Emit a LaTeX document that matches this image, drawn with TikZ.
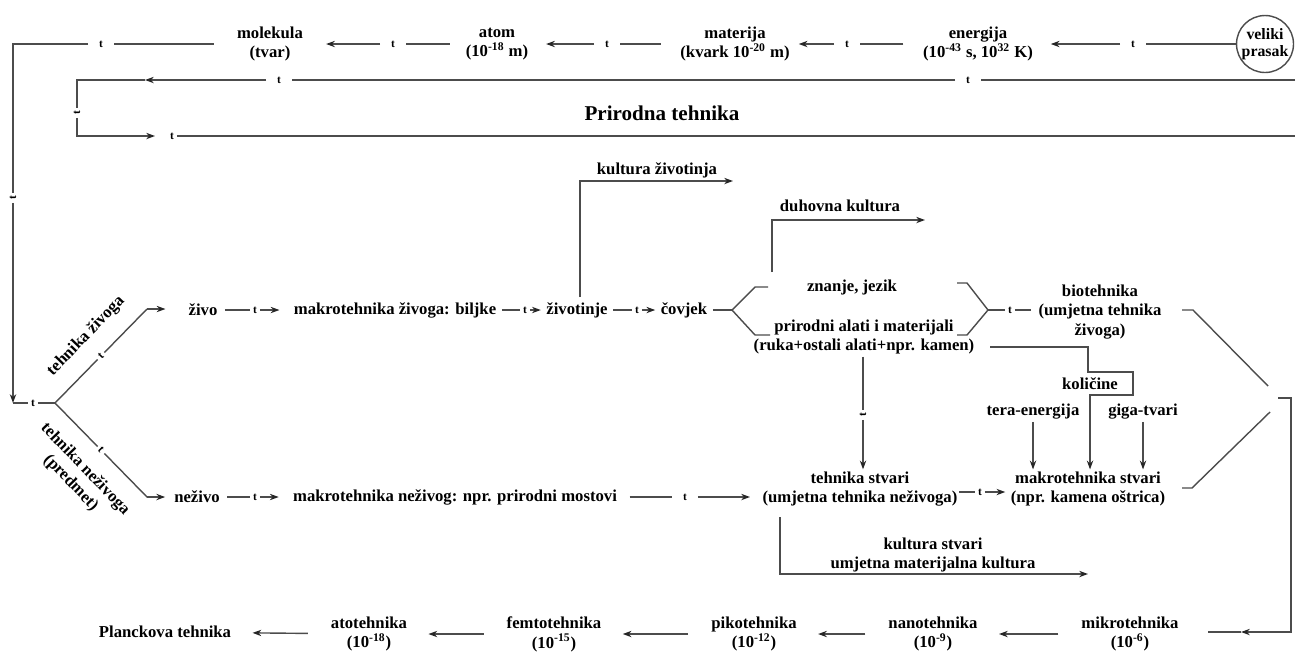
\documentclass[tikz,border=0pt]{standalone}
\usepackage{fontspec}
\setmainfont{Liberation Serif}
\usetikzlibrary{arrows.meta,calc}
\begin{document}
\begin{tikzpicture}[x=0.02cm, y=-0.02cm,
 lbl/.style={font=\bfseries\fontsize{9.5}{11.3}\selectfont, align=center, inner sep=1pt},
 tl/.style={font=\bfseries\fontsize{6.5}{6.5}\selectfont, inner xsep=1.5pt, inner ysep=0.5pt},
 tlw/.style={tl, inner xsep=6pt},
 ln/.style={draw=black!70, line width=0.8pt},
 arr/.style={ln, -{Stealth[length=5pt,width=3.6pt,color=black!85]}},
]
\useasboundingbox (0,0) rectangle (1297,657);
% ---------- top row ----------
\node[lbl] (mol) at (270,44) {molekula\\(tvar)};
\node[lbl] (atom) at (497,44) {atom\\(10\textsuperscript{-18} m)};
\node[lbl] (mat) at (735,44) {materija\\(kvark 10\textsuperscript{-20} m)};
\node[lbl] (ener) at (978,44) {energija\\(10\textsuperscript{-43} s, 10\textsuperscript{32} K)};
\node[lbl, circle, draw=black!70, line width=0.8pt, inner sep=0pt, minimum size=1.14cm, font=\bfseries\fontsize{9}{10}\selectfont] (vp) at (1265,44) {veliki\\prasak};
\node[tlw] (t01) at (1133,44) {t};
\node[tlw] (t02) at (847,44) {t};
\node[tlw] (t03) at (607,44) {t};
\node[tlw] (t04) at (393,44) {t};
\node[tlw] (t05) at (101,44) {t};
\coordinate (c1) at (13,44);
\node[tl, rotate=90] (t06) at (13,198) {t};
\coordinate (c2) at (13,403);
\draw[ln] (vp) -- (t01);
\draw[arr, shorten >=9pt] (t01) -- (ener);
\draw[ln, shorten <=10pt] (ener) -- (t02);
\draw[arr, shorten >=4pt] (t02) -- (mat);
\draw[ln, shorten <=10pt] (mat) -- (t03);
\draw[arr, shorten >=9pt] (t03) -- (atom);
\draw[ln, shorten <=8pt] (atom) -- (t04);
\draw[arr, shorten >=12pt] (t04) -- (mol);
\draw[ln, shorten <=12pt] (mol) -- (t05);
\draw[ln] (t05) -- (c1) -- (t06);
\draw[arr] (t06) -- (c2);
% ---------- rows 2 / 3 ----------
\coordinate (r2R) at (1295,80);
\node[tlw] (t07) at (968,80) {t};
\node[tlw] (t08) at (279,80) {t};
\coordinate (r2a) at (145,80);
\coordinate (r2L) at (77,80);
\node[tl, rotate=90] (t09) at (77,113) {t};
\coordinate (r3L) at (77,136);
\coordinate (r3a) at (155,136);
\node[tl] (t10) at (172,136) {t};
\coordinate (r3R) at (1295,136);
\draw[ln] (r2R) -- (t07);
\draw[ln] (t07) -- (t08);
\draw[arr] (t08) -- (r2a);
\draw[ln] (r2a) -- (r2L) -- (t09);
\draw[arr] (t09) -- (r3L) -- (r3a);
\draw[ln] (t10) -- (r3R);
\node[lbl, font=\bfseries\fontsize{12}{14}\selectfont] (pt) at (662,113) {Prirodna tehnika};
% ---------- fork ----------
\node[tl] (t11) at (33,403) {t};
\coordinate (fork) at (55,403);
\draw[ln] (c2) -- (t11) -- (fork);
\node[tl, rotate=46] (t12) at (101,356) {t};
\node[tl, rotate=-46] (t13) at (101,450) {t};
\coordinate (fu) at (147,309);
\coordinate (fd) at (147,497);
\draw[ln] (fork) -- (t12) -- (fu);
\draw[ln] (fork) -- (t13) -- (fd);
\node[lbl, rotate=46] (lz) at (86,336) {tehnika živoga};
\node[lbl, rotate=-46] (lnz) at (78,476) {tehnika neživoga\\(predmet)};
% ---------- zivo row ----------
\node[lbl] (zivo) at (203,310) {živo};
\node[lbl] (mzivo) at (395,310) {makrotehnika živoga: biljke};
\node[lbl] (zivotinje) at (577,310) {životinje};
\node[lbl] (covjek) at (684,310) {čovjek};
\node[tl] (t14) at (255,310) {t};
\node[tl] (t15) at (525,310) {t};
\node[tl] (t16) at (637,310) {t};
\draw[arr, shorten >=12pt] (fu) -- (fu -| zivo.west);
\draw[ln, shorten <=3pt] (zivo) -- (t14);
\draw[arr, shorten >=7pt] (t14) -- (mzivo);
\draw[ln, shorten <=2pt] (mzivo) -- (t15);
\draw[arr, shorten >=2pt] (t15) -- (zivotinje);
\draw[ln, shorten <=2pt] (zivotinje) -- (t16);
\draw[arr, shorten >=2pt] (t16) -- (covjek);
% kultura zivotinja
\node[lbl] (kzt) at (657,170) {kultura životinja};
\coordinate (kz1) at (580,297);
\coordinate (kz2) at (580,181);
\coordinate (kz3) at (733,181);
\draw[arr] (kz1) -- (kz2) -- (kz3);
% duhovna kultura
\node[lbl] (dkt) at (840,206) {duhovna kultura};
\coordinate (dk1) at (772,272);
\coordinate (dk2) at (772,220);
\coordinate (dk3) at (925,220);
\draw[arr] (dk1) -- (dk2) -- (dk3);
% brackets
\coordinate (cf) at (732,310);
\coordinate (lb1) at (755,287);
\coordinate (lb2) at (768,287);
\coordinate (lb3) at (755,335);
\coordinate (lb4) at (770,335);
\draw[ln, shorten <=2pt] (covjek) -- (cf);
\draw[ln] (lb2) -- (lb1) -- (cf) -- (lb3) -- (lb4);
\node[lbl] (znanje) at (852,287) {znanje, jezik};
\node[lbl] (prirodni) at (864,337) {prirodni alati i materijali\\(ruka+ostali alati+npr. kamen)};
\coordinate (rb1) at (957,283);
\coordinate (rb2) at (967,283);
\coordinate (rb3) at (988,310);
\coordinate (rb4) at (967,335);
\coordinate (rb5) at (957,335);
\draw[ln] (rb1) -- (rb2) -- (rb3) -- (rb4) -- (rb5);
\node[lbl] (bio) at (1100,312) {biotehnika\\(umjetna tehnika\\živoga)};
\node[tl] (t17) at (1010,310) {t};
\draw[ln] (rb3) -- (t17);
\draw[ln, shorten >=3pt] (t17) -- (t17 -| bio.west);
% hexagon right
\coordinate (hx1) at (1182,310);
\coordinate (hx2) at (1193,310);
\coordinate (hx3) at (1268,386);
\coordinate (hx4) at (1182,488);
\coordinate (hx5) at (1192,488);
\coordinate (hx6) at (1270,412);
\draw[ln] (hx1) -- (hx2) -- (hx3);
\draw[ln] (hx4) -- (hx5) -- (hx6);
\coordinate (h1) at (1278,398);
\coordinate (h2) at (1291,398);
\coordinate (h3) at (1291,632);
\coordinate (h4) at (1241,632);
\coordinate (h5) at (1208,632);
\draw[arr] (h1) -- (h2) -- (h3) -- (h4);
\draw[ln] (h4) -- (h5);
% ---------- nezivo row ----------
\node[lbl] (tstvari) at (860,489) {tehnika stvari\\(umjetna tehnika neživoga)};
\node[lbl] (mstvari) at (1088,489) {makrotehnika stvari\\(npr. kamena oštrica)};
\node[tl] (t18) at (980,492) {t};
\draw[ln] (tstvari.east |- t18) -- (t18);
\draw[arr, shorten >=2pt] (t18) -- (t18 -| mstvari.west);
\node[lbl] (nezivo) at (197,497) {neživo};
\node[lbl] (mnez) at (455,497) {makrotehnika neživog: npr. prirodni mostovi};
\node[tl] (t19) at (255,497) {t};
\node[tlw] (t20) at (685,497) {t};
\draw[arr, shorten >=4pt] (fd) -- (fd -| nezivo.west);
\draw[ln, shorten <=3pt] (nezivo) -- (t19);
\draw[arr, shorten >=7pt] (t19) -- (mnez);
\draw[ln, shorten <=6pt] (mnez) -- (t20);
\draw[arr, shorten >=6pt] (t20) -- (t20 -| tstvari.west);
% vertical to tehnika stvari
\node[tl, rotate=90] (t21) at (863,415) {t};
\draw[ln] (prirodni.south -| t21) -- (t21);
\draw[arr] (t21) -- (t21 |- tstvari.north);
% kolicine
\node[lbl] (tera) at (1033,412) {tera-energija};
\node[lbl] (giga) at (1143,412) {giga-tvari};
\node[lbl] (kol) at (1090,384) {količine};
\draw[arr] (tera) -- (tera |- mstvari.north);
\draw[arr] (giga) -- (giga |- mstvari.north);
\coordinate (k1) at (990,347);
\coordinate (k2) at (1088,347);
\coordinate (k3) at (1088,372);
\coordinate (k4) at (1133,372);
\coordinate (k5) at (1133,395);
\coordinate (k6) at (1090,395);
\draw[arr] (k1) -- (k2) -- (k3) -- (k4) -- (k5) -- (k6) -- (k6 |- mstvari.north);
\draw[ln, line width=1.5pt] (k1) -- (k2);
% kultura stvari
\node[lbl] (kst) at (933,555) {kultura stvari\\umjetna materijalna kultura};
\coordinate (ks1) at (780,517);
\coordinate (ks2) at (780,574);
\coordinate (ks3) at (1088,574);
\draw[arr] (ks1) -- (ks2) -- (ks3);
% ---------- bottom row ----------
\node[lbl] (mikro) at (1130,634) {mikrotehnika\\(10\textsuperscript{-6})};
\node[lbl] (nano) at (933,634) {nanotehnika\\(10\textsuperscript{-9})};
\node[lbl] (piko) at (754,634) {pikotehnika\\(10\textsuperscript{-12})};
\node[lbl] (femto) at (554,634) {femtotehnika\\(10\textsuperscript{-15})};
\node[lbl] (ato) at (369,634) {atotehnika\\(10\textsuperscript{-18})};
\node[lbl] (planck) at (165,632) {Planckova tehnika};
\draw[arr, shorten <=12pt, shorten >=11pt] (mikro) -- (nano);
\draw[arr, shorten <=12pt, shorten >=11pt] (nano) -- (piko);
\draw[arr, shorten <=12pt, shorten >=11pt] (piko) -- (femto);
\draw[arr, shorten <=12pt, shorten >=11pt] (femto) -- (ato);
\draw[arr, shorten <=12pt, shorten >=11pt] (ato) -- (planck);
\end{tikzpicture}
\end{document}
